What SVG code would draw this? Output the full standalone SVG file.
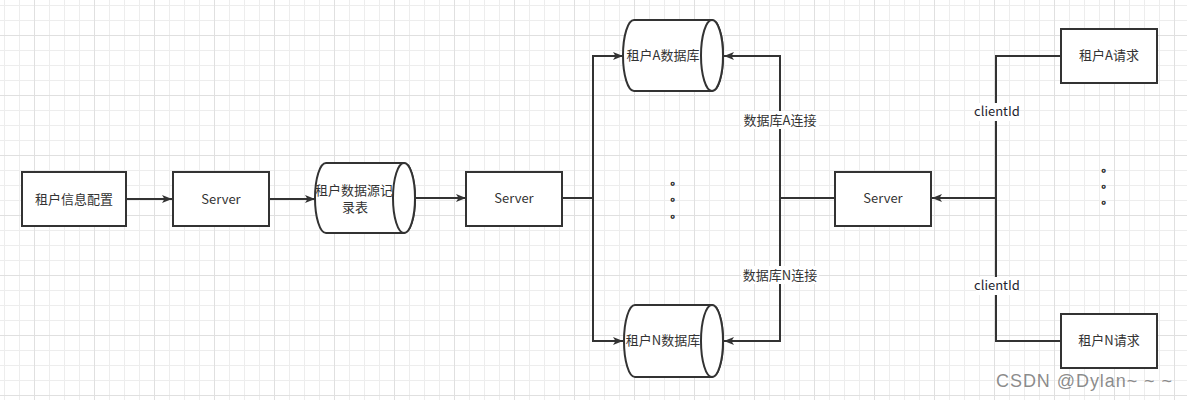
<svg xmlns="http://www.w3.org/2000/svg" width="1187" height="400" viewBox="0 0 1187 400">
<defs>
<pattern id="minor" x="4" y="5" width="15" height="15" patternUnits="userSpaceOnUse">
<path d="M0.5 0V15M0 0.5H15" fill="none" stroke="#ededed" stroke-width="1"/>
</pattern>
<pattern id="major" x="34" y="35" width="60" height="60" patternUnits="userSpaceOnUse">
<path d="M0.5 0V60M0 0.5H60" fill="none" stroke="#e0e0e0" stroke-width="1"/>
</pattern>
<marker id="arr" viewBox="0 0 10 8" refX="10" refY="4" markerWidth="10" markerHeight="8" markerUnits="userSpaceOnUse" orient="auto">
<path d="M0 0L10 4L0 8L2.5 4Z" fill="#333"/>
</marker>
<style>
.box{fill:#fff;stroke:#333;stroke-width:2}
.t{font-family:"Noto Sans CJK SC","Liberation Sans",sans-serif;font-size:13px;fill:#333;text-anchor:middle}
.d{font-family:"Noto Sans CJK SC",sans-serif;font-size:11px;fill:#333;stroke:#333;stroke-width:0.6}
.e{fill:none;stroke:#333;stroke-width:2}
.lbl{fill:#fff}
</style>
</defs>
<rect width="1187" height="400" fill="#fff"/>
<rect width="1187" height="400" fill="url(#minor)"/>
<rect width="1187" height="400" fill="url(#major)"/>

<g id="connectors">
<path class="e" d="M126 199H172" marker-end="url(#arr)"/>
<path class="e" d="M269 199H315" marker-end="url(#arr)"/>
<path class="e" d="M415 198H466" marker-end="url(#arr)"/>
<path class="e" d="M562 198H593V56H623" marker-end="url(#arr)"/>
<path class="e" d="M593 198V341H623" marker-end="url(#arr)"/>
<path class="e" d="M835 198H780V56H724" marker-end="url(#arr)"/>
<path class="e" d="M780 198V341H724" marker-end="url(#arr)"/>
<path class="e" d="M1061 56H996V198H932" marker-end="url(#arr)"/>
<path class="e" d="M1061 341H996V198"/>
<rect class="lbl" x="741" y="111" width="78" height="18"/>
<text class="t" x="780" y="125">数据库A连接</text>
<rect class="lbl" x="741" y="266" width="78" height="18"/>
<text class="t" x="780" y="280">数据库N连接</text>
<rect class="lbl" x="976" y="103" width="42" height="18"/>
<text class="t" x="997" y="116" style="fill:#1f1f2f">clientId</text>
<rect class="lbl" x="976" y="277" width="42" height="18"/>
<text class="t" x="997" y="290" style="fill:#1f1f2f">clientId</text>
</g>

<g id="n-config">
<rect class="box" x="22" y="172" width="104" height="54"/>
<text class="t" x="74" y="204">租户信息配置</text>
</g>
<g id="n-server1">
<rect class="box" x="173" y="172" width="96" height="54"/>
<text class="t" x="221" y="204">Server</text>
</g>
<g id="n-record">
<path class="box" d="M326 163H404A11 35 0 0 1 404 233H326A11 35 0 0 1 326 163Z"/>
<ellipse class="box" cx="404" cy="198" rx="11" ry="35"/>
<text class="t" x="354" y="195">租户数据源记</text>
<text class="t" x="355" y="212">录表</text>
</g>
<g id="n-server2">
<rect class="box" x="466" y="172" width="96" height="54"/>
<text class="t" x="514" y="203">Server</text>
</g>
<g id="n-dbA">
<path class="box" d="M634 20H712A11 35.5 0 0 1 712 91H634A11 35.5 0 0 1 634 20Z"/>
<ellipse class="box" cx="712" cy="55.5" rx="11" ry="35.5"/>
<text class="t" x="663" y="60">租户A数据库</text>
</g>
<g id="n-dbN">
<path class="box" d="M635 305H712A11 36 0 0 1 712 377H635A11 36 0 0 1 635 305Z"/>
<ellipse class="box" cx="712" cy="341" rx="11" ry="36"/>
<text class="t" x="663" y="345">租户N数据库</text>
</g>
<g id="dots-mid">
<text class="d" x="670.5" y="185">。</text>
<text class="d" x="670.5" y="201">。</text>
<text class="d" x="670.5" y="218">。</text>
</g>
<g id="n-server3">
<rect class="box" x="835" y="172" width="96" height="54"/>
<text class="t" x="883" y="203">Server</text>
</g>
<g id="n-reqA">
<rect class="box" x="1061" y="29" width="96" height="54"/>
<text class="t" x="1109" y="60">租户A请求</text>
</g>
<g id="dots-right">
<text class="d" x="1101.5" y="172">。</text>
<text class="d" x="1101.5" y="188">。</text>
<text class="d" x="1101.5" y="204">。</text>
</g>
<g id="n-reqN">
<rect class="box" x="1061" y="314" width="96" height="54"/>
<text class="t" x="1109" y="345">租户N请求</text>
</g>
<text x="996" y="387" textLength="176" lengthAdjust="spacing" style="font-family:'Liberation Sans',sans-serif;font-size:18px;fill:#777;fill-opacity:0.85">CSDN @Dylan~ ~ ~</text>
</svg>
